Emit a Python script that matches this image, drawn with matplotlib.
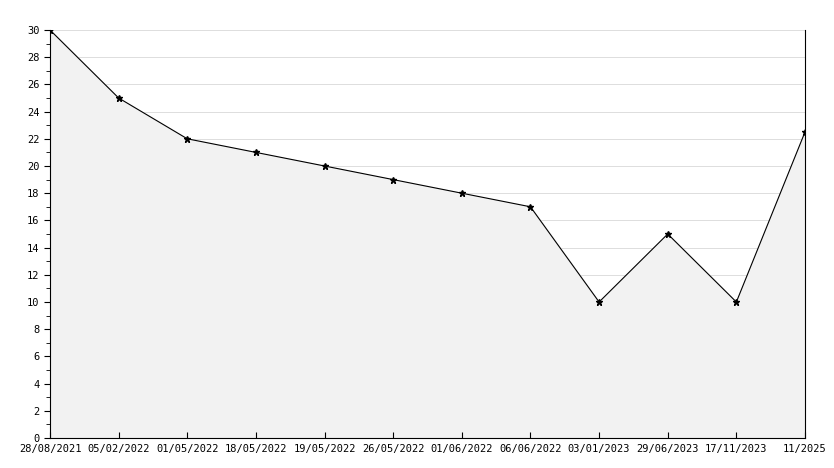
import matplotlib.pyplot as plt
import numpy as np

labels = ["28/08/2021", "05/02/2022", "01/05/2022", "18/05/2022", "19/05/2022",
          "26/05/2022", "01/06/2022", "06/06/2022", "03/01/2023", "29/06/2023",
          "17/11/2023", "11/2025"]
values = [30, 25, 22, 21, 20, 19, 18, 17, 10, 15, 10, 22.5]

plt.rcParams["font.family"] = "DejaVu Sans Mono"
fig = plt.figure(figsize=(8.34, 4.68), dpi=100)
ax = fig.add_axes([50 / 834, 30 / 468, 755 / 834, 408 / 468])
x = np.arange(len(values))
ax.fill_between(x, values, 0, color="#f2f2f2", zorder=1)
ax.plot(x, values, color="black", lw=0.8, marker="*", ms=5, zorder=3)
ax.set_xlim(0, len(values) - 1)
ax.set_ylim(0, 30)
ax.set_xticks(x)
ax.set_xticklabels(labels, fontsize=7.5)
ax.set_yticks(range(0, 31, 2))
ax.set_yticks(range(0, 31, 1), minor=True)
ax.tick_params(axis="y", labelsize=7.5, length=4, direction="out")
ax.tick_params(axis="y", which="minor", length=3)
ax.tick_params(axis="x", direction="in", length=4, pad=4)
for yv in range(2, 31, 2):
    ax.axhline(yv, color="#dddddd", lw=0.7, zorder=0.5)
for s in ["top"]:
    ax.spines[s].set_visible(False)
ax.spines["right"].set_linewidth(0.8)
ax.spines["left"].set_linewidth(0.8)
ax.spines["bottom"].set_linewidth(0.8)
fig.savefig("out.png", dpi=100)
